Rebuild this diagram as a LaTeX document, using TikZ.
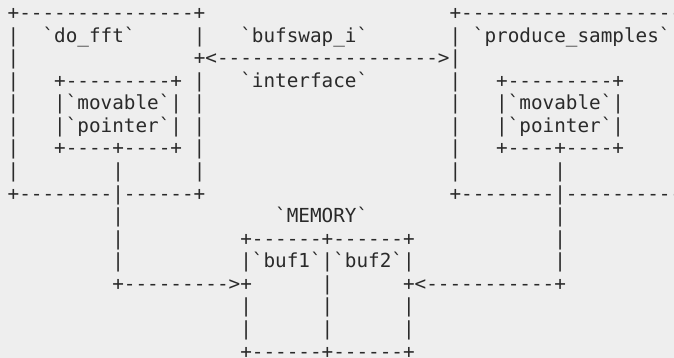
\documentclass[tikz,border=0pt]{standalone}
\usepackage{fontspec}
\newfontfamily\monof{DejaVu Sans Mono}
\definecolor{bg}{HTML}{EEEEEE}
\definecolor{ink}{HTML}{2A2A2A}
\newsavebox\charbox
\ExplSyntaxOn
\cs_new:Npn \rdash #1 {\prg_replicate:nn{#1}{-}}
\ExplSyntaxOff
\newcommand\sk[1]{\kern#1\wd\charbox}
\newcommand\monosize{\monof\fontsize{19.317pt}{22.57pt}\selectfont}
\begin{document}
\sbox\charbox{\monosize -}
\begin{tikzpicture}[x=1pt,y=1pt,
  asciirow/.style={anchor=base west, inner sep=0pt, outer sep=0pt, text=ink, font=\monosize}]
\useasboundingbox (0,0) rectangle (674,-358);
\clip (0,0) rectangle (674,-358);
\fill[bg] (0,0) rectangle (674,-358);
\def\cx{7.685}
\node[asciirow] (r0)  at (\cx,{-(19.5+22.57*0)})  {+\rdash{15}+\sk{21}+\rdash{19}};
\node[asciirow] (r1)  at (\cx,{-(19.5+22.57*1)})  {|\sk{2}`do\_fft`\sk{5}|\sk{3}`bufswap\_i`\sk{7}|\sk{1}`produce\_samples`};
\node[asciirow] (r2)  at (\cx,{-(19.5+22.57*2)})  {|\sk{15}+<\rdash{19}>|};
\node[asciirow] (r3)  at (\cx,{-(19.5+22.57*3)})  {|\sk{3}+\rdash{9}+\sk{1}|\sk{3}`interface`\sk{7}|\sk{3}+\rdash{9}+};
\node[asciirow] (r4)  at (\cx,{-(19.5+22.57*4)})  {|\sk{3}|`movable`|\sk{1}|\sk{21}|\sk{3}|`movable`|};
\node[asciirow] (r5)  at (\cx,{-(19.5+22.57*5)})  {|\sk{3}|`pointer`|\sk{1}|\sk{21}|\sk{3}|`pointer`|};
\node[asciirow] (r6)  at (\cx,{-(19.5+22.57*6)})  {|\sk{3}+\rdash{4}+\rdash{4}+\sk{1}|\sk{21}|\sk{3}+\rdash{4}+\rdash{4}+};
\node[asciirow] (r7)  at (\cx,{-(19.5+22.57*7)})  {|\sk{8}|\sk{6}|\sk{21}|\sk{8}|};
\node[asciirow] (r8)  at (\cx,{-(19.5+22.57*8)})  {+\rdash{8}|\rdash{6}+\sk{21}+\rdash{8}|\rdash{10}};
\node[asciirow] (r9)  at (\cx,{-(19.5+22.57*9)})  {\sk{9}|\sk{13}`MEMORY`\sk{16}|};
\node[asciirow] (r10) at (\cx,{-(19.5+22.57*10)}) {\sk{9}|\sk{10}+\rdash{6}+\rdash{6}+\sk{12}|};
\node[asciirow] (r11) at (\cx,{-(19.5+22.57*11)}) {\sk{9}|\sk{10}|`buf1`|`buf2`|\sk{12}|};
\node[asciirow] (r12) at (\cx,{-(19.5+22.57*12)}) {\sk{9}+\rdash{9}>+\sk{6}|\sk{6}+<\rdash{11}+};
\node[asciirow] (r13) at (\cx,{-(19.5+22.57*13)}) {\sk{20}|\sk{6}|\sk{6}|};
\node[asciirow] (r14) at (\cx,{-(19.5+22.57*14)}) {\sk{20}|\sk{6}|\sk{6}|};
\node[asciirow] (r15) at (\cx,{-(19.5+22.57*15)}) {\sk{20}+\rdash{6}+\rdash{6}+};
\end{tikzpicture}
\end{document}
